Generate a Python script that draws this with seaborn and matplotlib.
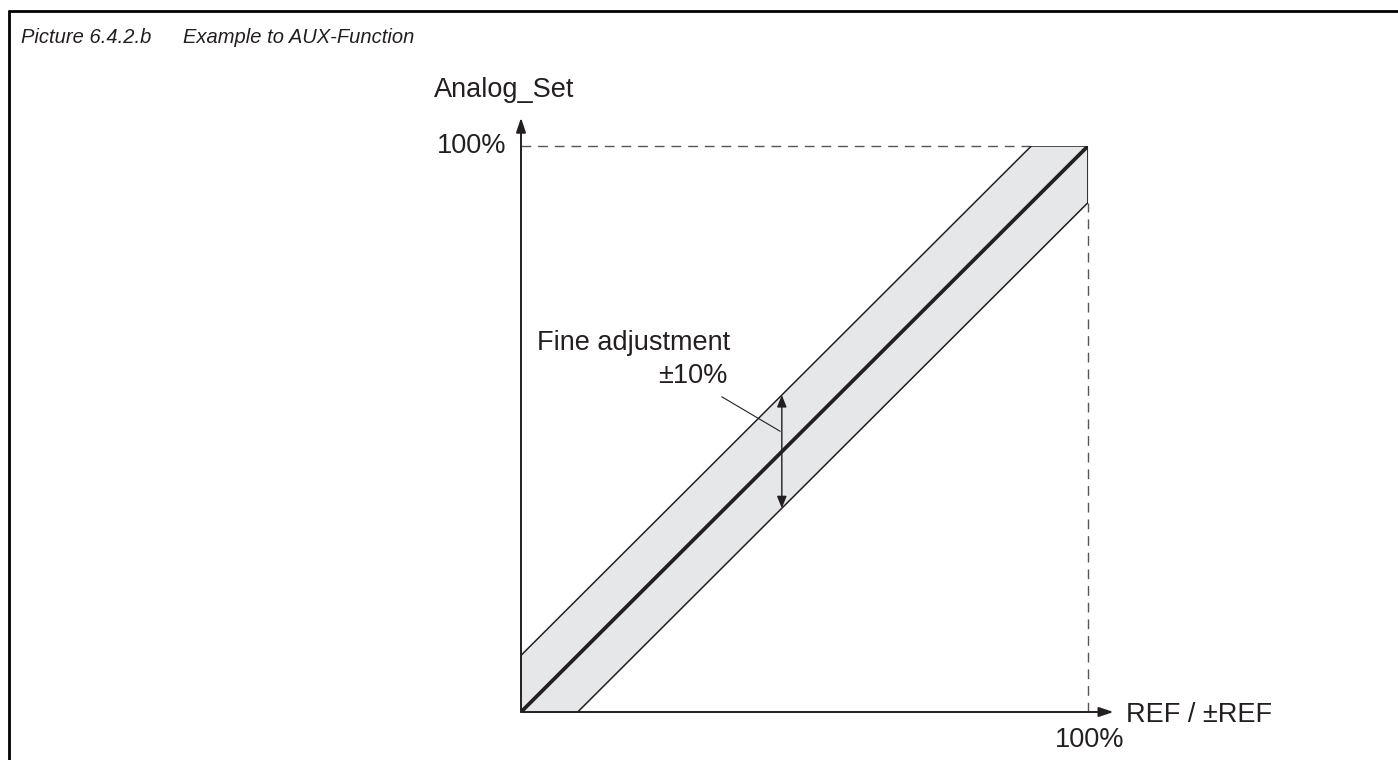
import matplotlib
matplotlib.use("Agg")
import matplotlib.pyplot as plt
import seaborn as sns
import pandas as pd

# ---- data (percent of full scale) ----
ref_pts = [0, 10, 90, 100]
set_nominal = [0, 10, 90, 100]
upper_x = [0, 90, 100]
upper_y = [10, 100, 100]
lower_x = [0, 10, 100]
lower_y = [0, 0, 90]
fine_adj_x = 46
fine_adj_range = [36, 56]
tick_label = "100%"
x_label = "REF / ±REF"
y_label = "Analog_Set"
title_left = "Picture 6.4.2.b"
title_right = "Example to AUX-Function"
note_lines = ["Fine adjustment", "±10%"]

sns.set_theme(style="white")
plt.rcParams['font.family'] = ['Liberation Sans', 'DejaVu Sans']
ink = "#231f20"

W, H = 1398, 760
fig = plt.figure(figsize=(W / 100, H / 100), dpi=100)
fig.patch.set_facecolor("white")
x0, y0, x1, y1 = 521, 712, 1088, 146
ax = fig.add_axes([x0 / W, (H - y0) / H, (x1 - x0) / W, (y0 - y1) / H])
ax.set_xlim(0, 100)
ax.set_ylim(0, 100)
ax.axis("off")

# band
band_x = [0, 10, 90, 100]
band_up = [10, 20, 100, 100]
band_lo = [0, 0, 80, 90]
ax.fill_between(band_x, band_lo, band_up, color="#e6e7e8", lw=0, zorder=1)

# band edges
df_up = pd.DataFrame({"x": upper_x, "y": upper_y})
df_lo = pd.DataFrame({"x": lower_x[1:], "y": lower_y[1:]})
sns.lineplot(data=df_up, x="x", y="y", ax=ax, color=ink, lw=1.1, sort=False, estimator=None, zorder=3)
sns.lineplot(data=df_lo, x="x", y="y", ax=ax, color=ink, lw=1.1, sort=False, estimator=None, zorder=3)
ax.plot([100, 100], [90, 100], color=ink, lw=1.3, zorder=3)

# nominal line
df_nom = pd.DataFrame({"x": ref_pts, "y": set_nominal})
sns.lineplot(data=df_nom, x="x", y="y", ax=ax, color=ink, lw=2.7, sort=False, estimator=None, zorder=4)

# dashed guides
ax.plot([0, 90], [100, 100], color="#555555", lw=1.0, ls=(0, (7, 5)), zorder=2, clip_on=False)
ax.plot([100, 100], [0, 90], color="#555555", lw=1.0, ls=(0, (7, 5)), zorder=2, clip_on=False)

# axes with arrows
for xy in [(0, 105), (104.5, 0)]:
    ax.annotate("", xy=xy, xytext=(0, 0), annotation_clip=False,
                arrowprops=dict(arrowstyle="-|>,head_length=0.72,head_width=0.24", color=ink, lw=1.4,
                                shrinkA=0, shrinkB=0, mutation_scale=12), zorder=5)

# fine adjustment arrow
ax.annotate("", xy=(fine_adj_x, fine_adj_range[1]), xytext=(fine_adj_x, fine_adj_range[0]),
            arrowprops=dict(arrowstyle="<|-|>,head_length=0.72,head_width=0.29", color=ink, lw=1.0,
                            shrinkA=0, shrinkB=0, mutation_scale=10), zorder=6)
ax.plot([35.4, 45.7], [55.7, 49.6], color=ink, lw=0.8, zorder=6)

fs = 19.5
ax.text(36.9, 63.96, note_lines[0], ha="right", va="baseline", fontsize=fs, color=ink)
ax.text(36.4, 58.13, note_lines[1], ha="right", va="baseline", fontsize=fs, color=ink)

ax.text(-2.5, 100, tick_label, ha="right", va="center", fontsize=fs, color=ink)
ax.text(100.3, -6.18, tick_label, ha="center", va="baseline", fontsize=fs, color=ink)
ax.text(106.7, -1.77, x_label, ha="left", va="baseline", fontsize=fs, color=ink)
ax.text(-2.9, 108.7, y_label, ha="center", va="baseline", fontsize=fs, color=ink)

# title
fig.text(21 / W, 1 - 43 / H, title_left, ha="left", va="baseline", fontsize=14.5, style="italic", color=ink)
fig.text(183 / W, 1 - 43 / H, title_right, ha="left", va="baseline", fontsize=14.5, style="italic", color=ink)

# frame lines (top and left)
fig.add_artist(plt.Line2D([9 / W, 1], [1 - 11 / H, 1 - 11 / H], transform=fig.transFigure, color="black", lw=2))
fig.add_artist(plt.Line2D([9 / W, 9 / W], [1 - 11 / H, 0], transform=fig.transFigure, color="black", lw=2))

fig.savefig("out.png", dpi=100, facecolor="white")
